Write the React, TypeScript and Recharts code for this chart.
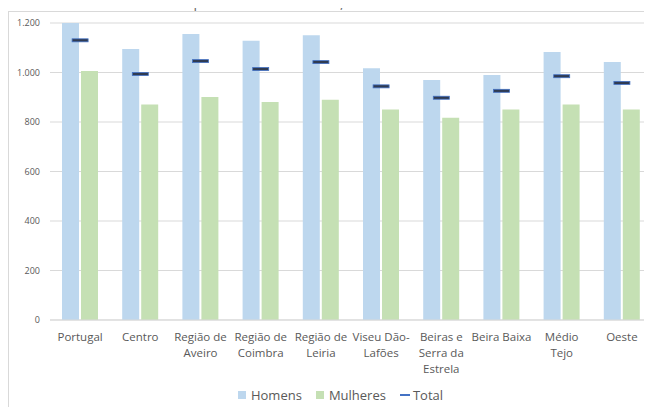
import {
  Bar,
  CartesianGrid,
  ComposedChart,
  Line,
  XAxis,
  YAxis,
} from "recharts";

const regions = [
  "Portugal",
  "Centro",
  "Região de Aveiro",
  "Região de Coimbra",
  "Região de Leiria",
  "Viseu Dão-Lafões",
  "Beiras e Serra da Estrela",
  "Beira Baixa",
  "Médio Tejo",
  "Oeste",
];

// how each label wraps under the axis
const regionLines = [
  ["Portugal"],
  ["Centro"],
  ["Região de", "Aveiro"],
  ["Região de", "Coimbra"],
  ["Região de", "Leiria"],
  ["Viseu Dão-", "Lafões"],
  ["Beiras e", "Serra da", "Estrela"],
  ["Beira Baixa"],
  ["Médio", "Tejo"],
  ["Oeste"],
];

const homens = [1205, 1095, 1156, 1128, 1151, 1017, 970, 990, 1083, 1042];
const mulheres = [1006, 871, 901, 881, 890, 851, 817, 851, 871, 851];
const total = [1130, 994, 1046, 1014, 1042, 944, 898, 926, 985, 958];

const yTicks = [0, 200, 400, 600, 800, 1000, 1200];

const HOMENS = "#bdd7ee";
const MULHERES = "#c5e0b4";
const TOTAL = "#4472c4";
const FONT = "'Open Sans', sans-serif";

const data = regions.map((r, i) => ({
  region: r,
  homens: homens[i],
  mulheres: mulheres[i],
  total: total[i],
}));

function formatThousands(v: number): string {
  return v >= 1000
    ? `${Math.floor(v / 1000)}.${String(v % 1000).padStart(3, "0")}`
    : String(v);
}

function RegionTick(props: any) {
  const { x, y, index } = props;
  const lines = regionLines[index] ?? [String(props.payload?.value ?? "")];
  return (
    <text
      x={x}
      y={y}
      textAnchor="middle"
      fill="#595959"
      fontSize={11.5}
      fontFamily={FONT}
    >
      {lines.map((l: string, i: number) => (
        <tspan key={i} x={x} dy={i === 0 ? 13 : 16}>
          {l}
        </tspan>
      ))}
    </text>
  );
}

// total is drawn as a short dash over the category centre
function TotalDash(props: any) {
  const { cx, cy, index } = props;
  if (cx == null || cy == null) return <g key={index} />;
  return (
    <rect
      key={index}
      x={cx - 8}
      y={cy - 1.5}
      width={16}
      height={3}
      fill="#2f3b52"
      stroke={TOTAL}
      strokeWidth={0.8}
    />
  );
}

function ChartLegend() {
  const item = { display: "flex", alignItems: "center" } as const;
  const square = (c: string) => ({
    width: 8,
    height: 8,
    background: c,
    marginRight: 5,
  });
  return (
    <div
      style={{
        width: 643,
        marginTop: -8,
        display: "flex",
        justifyContent: "center",
        gap: 14,
        paddingLeft: 20,
        boxSizing: "border-box",
        fontFamily: FONT,
        fontSize: 13,
        color: "#595959",
      }}
    >
      <div style={item}>
        <div style={square(HOMENS)} />
        Homens
      </div>
      <div style={item}>
        <div style={square(MULHERES)} />
        Mulheres
      </div>
      <div style={item}>
        <div
          style={{ width: 10, height: 2, background: TOTAL, marginRight: 3 }}
        />
        Total
      </div>
    </div>
  );
}

export default function App() {
  return (
    <div style={{ marginTop: -8, marginLeft: -8, width: 660 }}>
      {/* title cut off by the top of the screenshot */}
      <svg width={652} height={11} style={{ display: "block" }}>
        <text
          x={-6}
          y={8}
          fontFamily={FONT}
          fontSize={14}
          letterSpacing={0.6}
          fill="#666666"
        >
          r mensal dos trabalhadores por conta de outrem, NUTS III do Centro
        </text>
      </svg>
      <div
        style={{
          marginLeft: 8,
          width: 650,
          height: 400,
          border: "1px solid #d9d9d9",
          background: "#fff",
        }}
      >
        <ComposedChart
          width={643}
          height={382}
          data={data}
          margin={{ top: 11, right: 0, left: 0, bottom: 0 }}
          barGap={2}
        >
          <CartesianGrid vertical={false} stroke="#d9d9d9" />
          <XAxis
            dataKey="region"
            tick={<RegionTick />}
            tickLine={false}
            axisLine={{ stroke: "#d9d9d9" }}
            interval={0}
            height={74}
          />
          <YAxis
            width={41}
            domain={[0, 1200]}
            ticks={yTicks}
            allowDataOverflow
            tickFormatter={formatThousands}
            tick={{ fontSize: 9, fill: "#595959", fontFamily: FONT }}
            tickLine={false}
            axisLine={false}
            tickSize={0}
            tickMargin={10}
          />
          <Bar
            dataKey="homens"
            fill={HOMENS}
            barSize={17}
            isAnimationActive={false}
          />
          <Bar
            dataKey="mulheres"
            fill={MULHERES}
            barSize={17}
            isAnimationActive={false}
          />
          <Line
            dataKey="total"
            stroke="none"
            dot={<TotalDash />}
            activeDot={false}
            isAnimationActive={false}
          />
        </ComposedChart>
        <ChartLegend />
      </div>
    </div>
  );
}
